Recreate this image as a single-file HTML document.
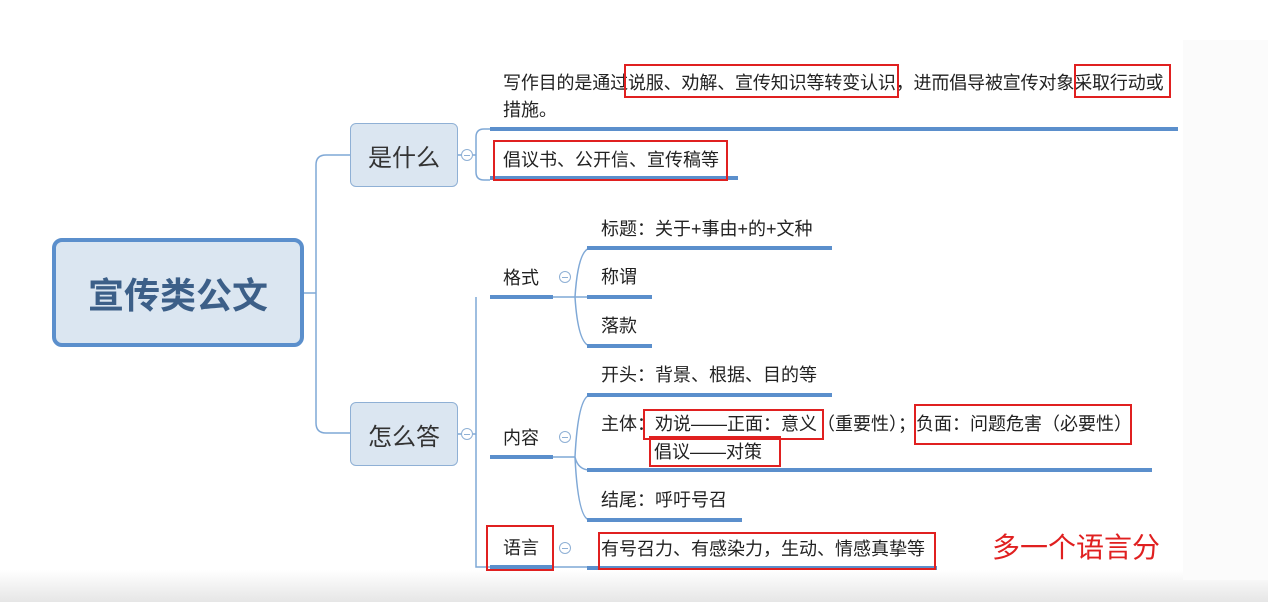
<!DOCTYPE html>
<html><head><meta charset="utf-8"><style>
body{margin:0;width:1268px;height:602px;overflow:hidden;background:#fff;font-family:"Liberation Sans","Noto Sans CJK SC",sans-serif;position:relative}
.t{position:absolute;font-size:18px;color:#222;white-space:nowrap;line-height:22px}
.u{position:absolute;height:4px;background:#5b8fcc}
.r{position:absolute;border:2px solid #e02020}
.c{position:absolute;width:10px;height:10px;border:1.5px solid #8fb0d5;border-radius:50%;background:#fff}
.c:after{content:"";position:absolute;left:2px;top:4.5px;width:6px;height:1px;background:#8fb0d5}
</style></head><body>
<div style="position:absolute;left:0;top:570px;width:1268px;height:32px;background:linear-gradient(#fff,#e6e6e6)"></div>
<div style="position:absolute;left:1183px;top:40px;width:85px;height:540px;background:#fbfbfb"></div>
<svg width="1268" height="602" style="position:absolute;left:0;top:0" fill="none" stroke="#7fa8d6" stroke-width="1.5">
<path d="M304 293H316M350 155H326Q316 155 316 165V423Q316 433 326 433H350"/>
<path d="M458 155H476M490 129H484Q476 129 476 137V172Q476 180 484 180H490"/>
<path d="M458 434H476M476 297V567H490"/>
<path d="M553 297H575M575 297Q578 250 590 248M575 297H590M575 297Q578 344 590 346"/>
<path d="M553 457H575M575 457Q578 397 590 395M575 457Q578 470 590 470M575 457Q578 520 590 520"/>
<path d="M553 567H590"/>
</svg>
<div style="position:absolute;left:52px;top:238px;width:244px;height:101px;border:4px solid #5b8fcc;border-radius:10px;background:#dbe6f1;display:flex;align-items:center;justify-content:center;font-size:36px;font-weight:bold;color:#3c5f88">宣传类公文</div>
<div style="position:absolute;left:350px;top:123px;width:106px;height:62px;border:1.5px solid #8fb0d5;border-radius:6px;background:#dbe6f1;display:flex;align-items:center;justify-content:center;font-size:24px;color:#333">是什么</div>
<div style="position:absolute;left:350px;top:402px;width:106px;height:62px;border:1.5px solid #8fb0d5;border-radius:6px;background:#dbe6f1;display:flex;align-items:center;justify-content:center;font-size:24px;color:#333">怎么答</div>
<div class="c" style="left:461px;top:149px"></div>
<div class="c" style="left:461px;top:428px"></div>
<div class="c" style="left:559px;top:271px"></div>
<div class="c" style="left:559px;top:431px"></div>
<div class="c" style="left:559px;top:542px"></div>
<div class="t" style="left:503px;top:72px;letter-spacing:-0.15px">写作目的是通过说服、劝解、宣传知识等转变认识，进而倡导被宣传对象采取行动或</div>
<div class="t" style="left:503px;top:99px">措施。</div>
<div class="u" style="left:490px;top:127px;width:688px"></div>
<div class="t" style="left:503px;top:149px">倡议书、公开信、宣传稿等</div>
<div class="u" style="left:490px;top:176px;width:248px"></div>
<div class="t" style="left:503px;top:267px">格式</div>
<div class="u" style="left:490px;top:295px;width:63px"></div>
<div class="t" style="left:503px;top:427px">内容</div>
<div class="u" style="left:490px;top:455px;width:63px"></div>
<div class="t" style="left:503px;top:537px">语言</div>
<div class="u" style="left:490px;top:565px;width:63px"></div>
<div class="t" style="left:601px;top:218px">标题：关于+事由+的+文种</div>
<div class="u" style="left:587px;top:246px;width:245px"></div>
<div class="t" style="left:601px;top:266px">称谓</div>
<div class="u" style="left:587px;top:295px;width:65px"></div>
<div class="t" style="left:601px;top:315px">落款</div>
<div class="u" style="left:587px;top:344px;width:65px"></div>
<div class="t" style="left:601px;top:364px">开头：背景、根据、目的等</div>
<div class="u" style="left:587px;top:393px;width:245px"></div>
<div class="t" style="left:601px;top:413px">主体：劝说——正面：意义（重要性）；负面：问题危害（必要性）</div>
<div class="t" style="left:654px;top:441px">倡议——对策</div>
<div class="u" style="left:587px;top:468px;width:565px"></div>
<div class="t" style="left:601px;top:489px">结尾：呼吁号召</div>
<div class="u" style="left:587px;top:518px;width:155px"></div>
<div class="t" style="left:601px;top:538px">有号召力、有感染力，生动、情感真挚等</div>
<div class="u" style="left:587px;top:566px;width:350px"></div>
<div class="t" style="left:992px;top:532px;font-size:28px;line-height:32px;color:#e02020">多一个语言分</div>
<div class="r" style="left:624px;top:64px;width:271px;height:30px"></div>
<div class="r" style="left:1074px;top:64px;width:93px;height:30px"></div>
<div class="r" style="left:493px;top:140px;width:231px;height:37px"></div>
<div class="r" style="left:643px;top:409px;width:177px;height:27px"></div>
<div class="r" style="left:649px;top:436px;width:128px;height:27px"></div>
<div class="r" style="left:914px;top:404px;width:214px;height:37px"></div>
<div class="r" style="left:486px;top:525px;width:64px;height:42px"></div>
<div class="r" style="left:598px;top:532px;width:334px;height:34px"></div>
</body></html>
